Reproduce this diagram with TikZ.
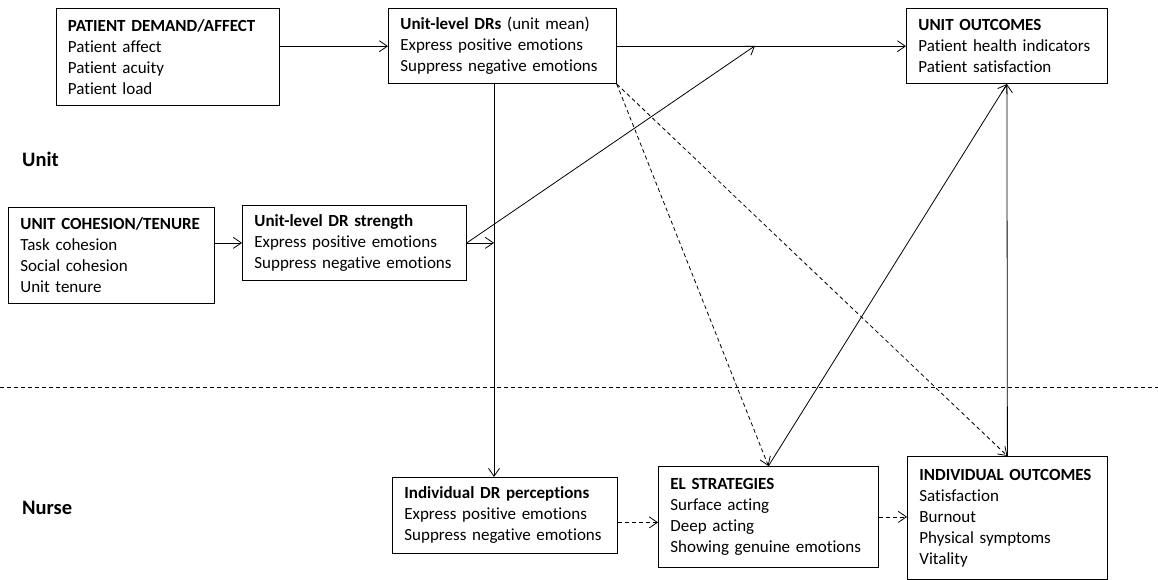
\documentclass[tikz,border=0pt]{standalone}
\usepackage{fontspec}
\setmainfont{Carlito}[Ligatures=NoCommon]
\usetikzlibrary{arrows.meta,calc}
\newcommand\oneline[1]{\mbox{#1}}
\begin{document}
\begin{tikzpicture}[x=1pt,y=-1pt,
  bx/.style={draw, line width=0.8pt, anchor=north west, align=left, inner xsep=12pt, inner ysep=0pt, font=\fontsize{17}{21}\selectfont},
  arr/.style={line width=0.8pt, -{Straight Barb[length=8pt,width=11pt]}},
  darr/.style={arr, dash pattern=on 4pt off 3pt},
  lvl/.style={anchor=base west, inner sep=0pt, font=\fontsize{20.5}{24}\selectfont\bfseries}]
\useasboundingbox (0,0) rectangle (1158,580);

% boxes
\node[bx, text width=199.5pt, minimum height=96.7pt] (PAT) at (55.5,8.3)
  {\oneline{\textbf{PATIENT DEMAND/AFFECT}}\\Patient affect\\Patient acuity\\Patient load};
\node[bx, text width=204pt, minimum height=75pt] (UDR) at (388,8.3)
  {\oneline{\textbf{Unit-level DRs} (unit mean)}\\\oneline{Express positive emotions}\\\oneline{Suppress negative emotions}};
\node[bx, text width=177pt, minimum height=75pt] (UO) at (906,8.3)
  {\oneline{\textbf{UNIT OUTCOMES}}\\\oneline{Patient health indicators}\\\oneline{Patient satisfaction}};
\node[bx, text width=182pt, minimum height=96pt] (UC) at (8,207)
  {\oneline{\textbf{UNIT COHESION/TENURE}}\\Task cohesion\\Social cohesion\\Unit tenure};
\node[bx, text width=200pt, minimum height=75pt] (DRS) at (242,205)
  {\oneline{\textbf{Unit-level DR strength}}\\\oneline{Express positive emotions}\\\oneline{Suppress negative emotions}};
\node[bx, text width=201pt, minimum height=76pt] (IDR) at (392,477)
  {\oneline{\textbf{Individual DR perceptions}}\\\oneline{Express positive emotions}\\\oneline{Suppress negative emotions}};
\node[bx, text width=196pt, minimum height=101pt] (EL) at (658,466)
  {\oneline{\textbf{EL STRATEGIES}}\\Surface acting\\Deep acting\\\oneline{Showing genuine emotions}};
\node[bx, text width=176pt, minimum height=123pt] (IO) at (907,456)
  {\oneline{\textbf{INDIVIDUAL OUTCOMES}}\\Satisfaction\\Burnout\\\oneline{Physical symptoms}\\Vitality};

% level labels
\node[lvl] (unitlbl) at (22,167) {Unit};
\node[lvl] (nurselbl) at (22,514) {Nurse};

% level divider
\coordinate (dl) at (0,387);
\coordinate (dr) at (1158,387);
\draw[line width=0.8pt, dash pattern=on 4pt off 3pt] (dl) -- (dr);

% helper coordinates
\coordinate (vline) at (494,0);
\coordinate (mj) at (755,45.8);

% connectors
\draw[arr] (PAT.east |- UDR.west) -- (UDR.west);
\draw[arr] (UDR.east) -- (UDR.east -| UO.west);
\draw[arr] (UC.east |- DRS.west) -- (DRS.west);
\draw[arr] (DRS.east) -- (DRS.east -| vline);
\draw[arr] (DRS.east) -- (mj);
\draw[arr] (UDR.south -| vline) -- (IDR.north -| vline);
\draw[darr] (UDR.south east) -- (EL.north);
\draw[darr] (UDR.south east) -- (IO.north);
\draw[arr] (EL.north) -- (UO.south);
\draw[arr] (IO.north) -- (UO.south);
\draw[darr] ([yshift=-7pt]IDR.east) -- ([yshift=-7pt]IDR.east -| EL.west);
\draw[darr] (EL.east) -- (EL.east -| IO.west);
\end{tikzpicture}
\end{document}
